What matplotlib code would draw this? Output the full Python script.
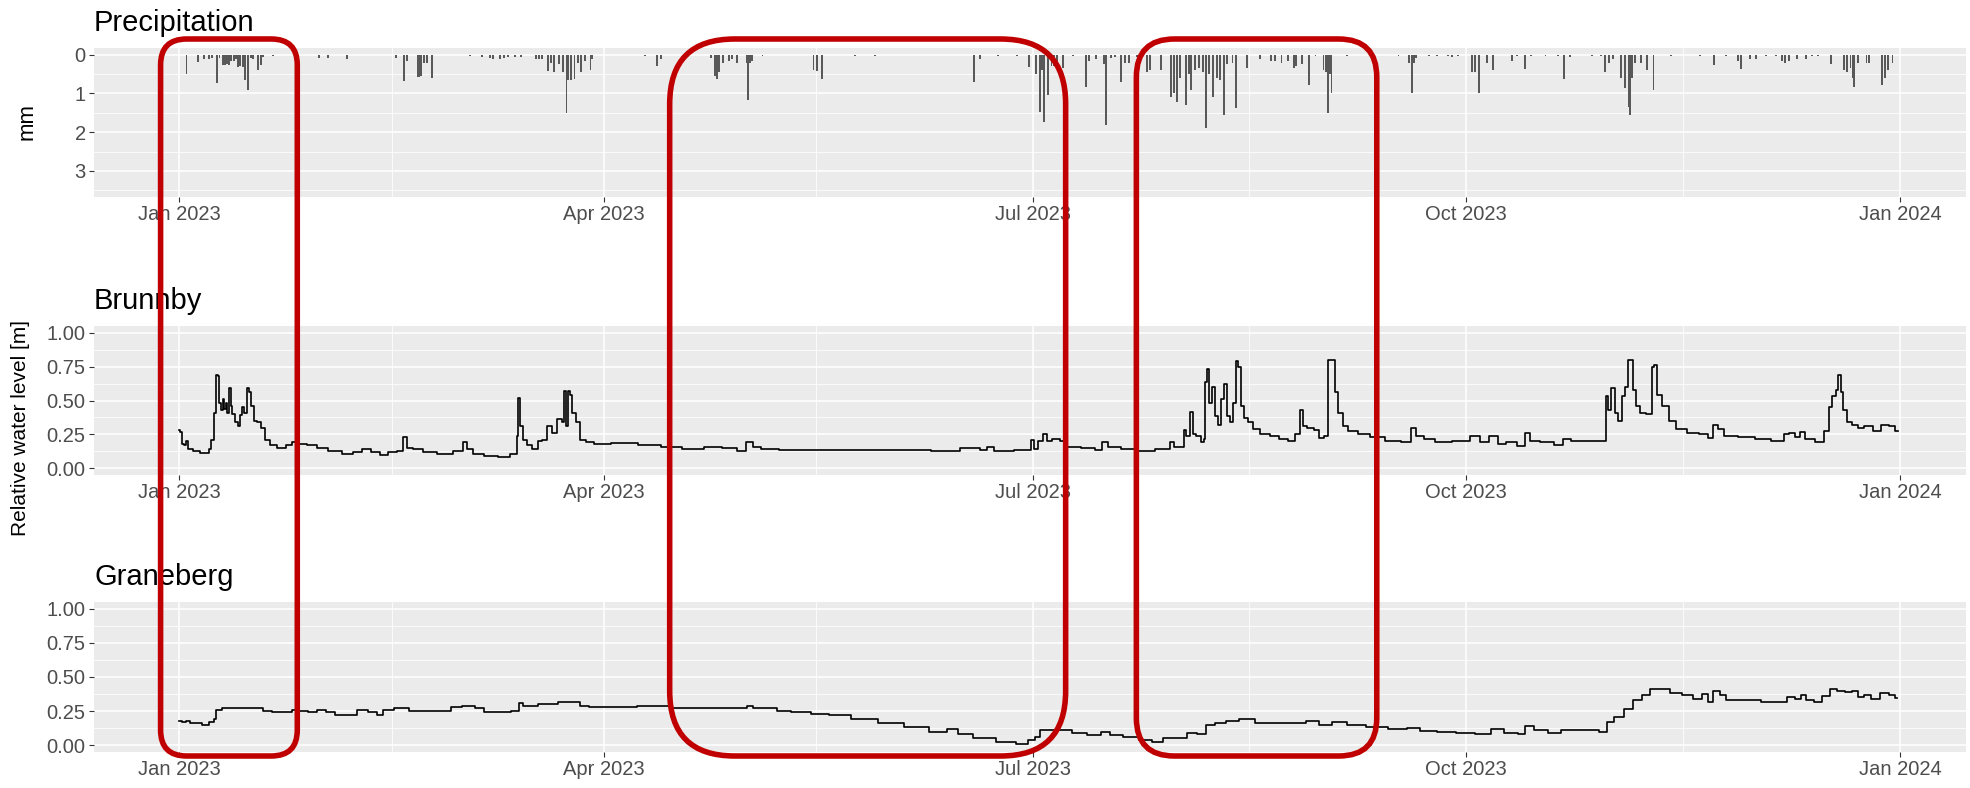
import numpy as np
import matplotlib
matplotlib.use('Agg')
import matplotlib.pyplot as plt
import matplotlib.dates as mdates
from matplotlib.patches import FancyBboxPatch
from matplotlib.transforms import IdentityTransform

plt.rcParams['font.family'] = ['Liberation Sans', 'DejaVu Sans']

START = np.datetime64('2023-01-01T00:00')

# precipitation events: days since 1 Jan 2023, mm
precip_day = [1.5, 3.9, 5.2, 6.2, 7.0, 7.9, 8.5, 9.2, 9.6, 10.0, 10.5, 11.0, 11.5, 12.0, 12.5, 12.9,
              13.4, 14.0, 14.5, 15.2, 15.6, 16.7, 17.3, 17.8, 19.9, 29.7, 31.5, 35.6, 46.0, 47.7, 48.3,
              50.5, 50.9, 51.3, 51.8, 52.6, 53.5, 61.6, 64.2, 65.9, 66.6, 68.0, 68.9, 69.7, 71.2, 72.5,
              75.7, 76.3, 77.0, 78.2, 78.8, 79.5, 80.5, 81.4, 82.1, 82.5, 83.0, 83.8, 84.6, 85.2, 86.1,
              87.2, 87.6, 98.7, 101.3, 102.1, 112.8,
              113.7, 114.1, 114.5, 115.3, 116.6, 117.2, 118.3, 120.4, 120.7, 121.1, 121.5, 123.7, 134.5,
              135.3, 136.4, 143.4, 147.5, 168.6, 169.8, 173.7, 177.6, 180.3, 181.8, 182.5, 183.0, 183.5,
              184.3, 185.0, 185.6, 186.2, 187.4, 189.5, 192.4, 193.0, 194.4, 196.1, 196.5, 197.6, 198.4,
              199.7, 200.5, 201.4, 203.1, 204.0, 205.2, 205.9, 208.2, 210.4, 210.9, 211.6, 212.2, 213.5,
              214.2, 214.6, 215.4, 216.3, 217.1, 217.7, 218.4, 219.3, 220.1, 220.8, 221.5, 222.3, 223.4,
              224.2, 226.5, 229.3, 231.6, 232.5, 233.8, 235.1, 236.4, 236.9, 238.2, 239.6, 241.0, 242.7,
              243.3, 243.6, 244.0, 244.4,
              247.7, 258.6, 260.9, 261.5, 261.9, 262.4, 265.1, 266.7, 269.2, 270.0, 271.2, 274.2, 274.8,
              275.6, 277.3, 278.6, 282.7, 283.7, 285.4, 286.7, 289.8, 292.4, 293.7, 295.0, 299.7, 301.6,
              302.5, 303.2, 304.2, 305.9, 306.7, 307.4, 307.7, 308.2, 308.8, 310.1, 311.4, 312.7, 316.5,
              322.5, 325.5, 328.0, 330.6, 331.3, 333.2, 334.4, 336.5, 338.7, 340.0, 340.6, 341.4, 343.2,
              345.1, 346.3, 347.6, 350.4, 353.2, 353.8, 354.5, 355.0, 355.3, 356.0, 357.9, 358.5, 361.2,
              361.9, 362.5, 363.4]
precip_mm = [0.49, 0.19, 0.1, 0.1, 0.08, 0.74, 0.08, 0.27, 0.27, 0.25, 0.27, 0.15, 0.15, 0.12, 0.32, 0.3,
             0.32, 0.66, 0.91, 0.08, 0.1, 0.4, 0.27, 0.05, 0.04, 0.08, 0.08, 0.12, 0.08, 0.68, 0.15,
             0.57, 0.57, 0.55, 0.2, 0.2, 0.59, 0.04, 0.05, 0.08, 0.1, 0.1, 0.08, 0.06, 0.05, 0.05,
             0.1, 0.12, 0.1, 0.43, 0.2, 0.45, 0.25, 0.45, 1.51, 0.66, 0.66, 0.62, 0.2, 0.45, 0.15,
             0.4, 0.1, 0.04, 0.3, 0.1, 0.08,
             0.55, 0.62, 0.45, 0.2, 0.15, 0.1, 0.2, 0.2, 1.17, 0.2, 0.15, 0.04, 0.4,
             0.42, 0.62, 0.04, 0.04, 0.7, 0.1, 0.04, 0.04, 0.32, 0.49, 1.47, 0.4, 1.73,
             1.04, 0.3, 0.3, 0.3, 0.35, 0.04, 0.83, 0.15, 0.12, 0.23, 1.81, 0.08, 0.06,
             0.7, 0.2, 0.2, 0.05, 0.06, 0.45, 0.4, 0.4, 1.08, 1.0, 1.21, 0.6, 1.3,
             0.5, 0.91, 0.4, 0.35, 0.45, 1.9, 0.5, 1.08, 0.6, 0.65, 1.56, 0.25, 0.2,
             1.38, 0.35, 0.1, 0.15, 0.15, 0.2, 0.15, 0.35, 0.3, 0.25, 0.79, 0.04, 0.4,
             0.45, 1.51, 0.5, 1.0,
             0.04, 0.04, 0.2, 1.0, 0.2, 0.08, 0.04, 0.04, 0.04, 0.05, 0.04, 0.45, 0.45,
             1.0, 0.2, 0.4, 0.15, 0.04, 0.36, 0.04, 0.04, 0.04, 0.62, 0.06, 0.04, 0.04,
             0.44, 0.2, 0.1, 0.6, 0.87, 1.34, 1.56, 0.6, 0.2, 0.2, 0.4, 0.91, 0.04,
             0.04, 0.27, 0.04, 0.15, 0.36, 0.1, 0.1, 0.04, 0.04, 0.15, 0.2, 0.15, 0.1,
             0.1, 0.04, 0.04, 0.25, 0.4, 0.45, 0.35, 0.6, 0.83, 0.2, 0.2, 0.2, 0.79,
             0.6, 0.4, 0.2]

# relative water level, days since 1 Jan 2023, m
brunnby_day = [0, 0.4, 0.8, 1.1, 1.5, 2.1, 3.6, 5.0, 6.0, 6.4, 7.2, 7.6, 8.0, 8.3, 8.6, 9.0, 9.3, 9.6,
               10.0, 10.3, 10.7, 11.0, 11.4, 12.1, 12.6, 13.1, 13.5, 14.0, 14.5, 15.0, 15.4, 16.1, 16.8,
               17.8, 18.7, 19.7, 21.6, 23.5, 24.4, 25.8, 28.2, 30.1, 33.0, 35.8, 37.7, 39.6, 41.5, 43.4,
               45.3, 47.1, 47.9, 48.6, 50.5, 52.8, 56.6, 59.5, 60.6, 61.3, 63.2, 66.1, 68.9, 71.3, 71.8,
               72.0, 72.5, 73.2, 74.1, 75.6, 76.5, 77.5, 78.6, 79.3, 80.8, 81.4, 81.7, 82.2, 82.7, 83.1,
               83.6, 84.5, 85.5, 86.9, 88.8, 94.5, 100.2, 104.0, 109.3, 113.1, 116.9, 119.7, 120.8, 122.5,
               124.4, 130.1, 156.6, 162.3, 168.9, 170.8, 172.0, 173.7, 180.3, 180.8, 181.7, 182.7, 183.6,
               184.4, 186.0, 187.4, 188.8, 193.6, 195.0, 196.4, 197.4, 202.1, 204.0, 209.7, 210.4, 211.6,
               213.0, 213.3, 213.9, 214.7, 215.2, 216.3, 217.2, 217.5, 217.7, 218.2, 218.7, 219.3, 219.9,
               220.6, 221.2, 221.8, 222.5, 223.2, 223.9, 224.3, 224.8, 225.5, 226.2, 227.2, 228.1, 230.5,
               232.4, 234.3, 236.2, 237.3, 238.1, 238.5, 240.0, 241.4, 242.3, 243.3, 244.0, 244.9, 245.4,
               246.3, 247.2, 248.6, 251.3, 254.0, 257.6, 260.8, 261.7, 263.1, 264.9, 267.6, 272.2, 275.3,
               276.7, 279.0, 280.3, 282.6, 284.8, 285.9, 287.1, 290.3, 293.0, 293.9, 296.6, 301.2, 302.5,
               302.8, 303.4, 304.1, 304.8, 305.7, 306.4, 307.1, 307.5, 308.2, 308.6, 309.3, 310.2, 312.0,
               312.6, 313.1, 313.9, 315.2, 316.6, 318.4, 321.1, 323.8, 324.9, 325.6, 327.0, 328.4, 332.9,
               335.6, 339.7, 341.1, 342.0, 343.3, 344.2, 345.6, 348.3, 349.6, 350.1, 351.0, 351.8, 352.1,
               352.7, 353.3, 354.2, 355.6, 356.5, 358.3, 360.1, 361.9, 363.3, 364.6]
brunnby_level = [0.28, 0.27, 0.18, 0.17, 0.20, 0.14, 0.13, 0.11, 0.11, 0.14, 0.21, 0.41, 0.69, 0.68, 0.48,
                 0.43, 0.51, 0.44, 0.48, 0.41, 0.59, 0.46, 0.40, 0.34, 0.31, 0.39, 0.45, 0.41, 0.59, 0.56,
                 0.46, 0.35, 0.34, 0.30, 0.21, 0.17, 0.15, 0.17, 0.195, 0.18, 0.17, 0.15, 0.13, 0.105,
                 0.12, 0.14, 0.12, 0.095, 0.12, 0.13, 0.23, 0.15, 0.14, 0.12, 0.105, 0.13, 0.19, 0.14,
                 0.105, 0.09, 0.08, 0.105, 0.24, 0.52, 0.31, 0.21, 0.17, 0.14, 0.20, 0.21, 0.31, 0.26,
                 0.36, 0.34, 0.57, 0.31, 0.57, 0.54, 0.41, 0.34, 0.21, 0.19, 0.18, 0.185, 0.175, 0.16,
                 0.14, 0.155, 0.15, 0.13, 0.19, 0.155, 0.14, 0.135, 0.135, 0.13, 0.15, 0.135, 0.16, 0.125,
                 0.135, 0.21, 0.14, 0.20, 0.25, 0.20, 0.215, 0.20, 0.16, 0.15, 0.135, 0.195, 0.155, 0.14,
                 0.13, 0.14, 0.195, 0.16, 0.155, 0.28, 0.24, 0.415, 0.25, 0.24, 0.195, 0.215, 0.64, 0.73,
                 0.48, 0.60, 0.385, 0.32, 0.51, 0.62, 0.385, 0.34, 0.48, 0.79, 0.75, 0.46, 0.37, 0.34,
                 0.29, 0.25, 0.24, 0.215, 0.20, 0.25, 0.43, 0.31, 0.30, 0.28, 0.225, 0.24, 0.80, 0.80,
                 0.56, 0.41, 0.31, 0.275, 0.25, 0.23, 0.20, 0.195, 0.30, 0.24, 0.215, 0.195, 0.20, 0.24,
                 0.19, 0.24, 0.18, 0.19, 0.165, 0.26, 0.20, 0.19, 0.17, 0.215, 0.20, 0.20, 0.20, 0.53,
                 0.43, 0.59, 0.41, 0.35, 0.53, 0.60, 0.80, 0.80, 0.58, 0.46, 0.41, 0.40, 0.75, 0.76, 0.54,
                 0.46, 0.35, 0.29, 0.26, 0.25, 0.22, 0.32, 0.29, 0.24, 0.23, 0.215, 0.20, 0.25, 0.26,
                 0.23, 0.27, 0.215, 0.195, 0.275, 0.45, 0.53, 0.58, 0.69, 0.56, 0.43, 0.34, 0.32, 0.30,
                 0.31, 0.275, 0.32, 0.31, 0.275]

graneberg_day = [0.0, 0.9, 1.8, 2.6, 4.1, 5.5, 6.9, 7.6, 8.0, 10.2, 14.9, 16.8, 18.7, 20.6, 23.5, 24.4,
                 26.3, 28.2, 30.1, 32.0, 33.9, 36.7, 38.6, 41.5, 42.4, 43.8, 47.1, 50.5, 56.6, 58.5, 61.3,
                 64.2, 65.1, 68.9, 71.8, 72.2, 73.7, 78.4, 82.2, 84.1, 86.0, 87.9, 94.5, 99.8, 108.3,
                 120.2, 120.8, 122.5, 126.3, 127.3, 132.0, 135.8, 139.6, 145.3, 151.0, 156.6, 161.4,
                 164.2, 166.1, 170.8, 175.6, 179.4, 180.8, 182.2, 183.1, 185.0, 187.9, 190.7, 194.5,
                 196.4, 198.3, 202.1, 204.9, 207.8, 209.7, 213.0, 214.4, 217.2, 218.2, 221.0, 222.9,
                 226.7, 229.5, 232.4, 237.7, 240.4, 243.2, 245.9, 249.5, 254.0, 258.6, 262.2, 264.0,
                 269.4, 272.2, 277.6, 279.0, 283.0, 284.8, 286.2, 288.5, 292.1, 293.9, 300.3, 302.1,
                 303.4, 305.2, 307.5, 309.3, 311.1, 313.0, 314.8, 317.5, 320.2, 322.0, 323.8, 324.7,
                 326.1, 327.5, 328.8, 333.8, 337.4, 340.2, 342.0, 343.3, 344.7, 345.6, 347.9, 349.2,
                 351.0, 352.4, 354.2, 355.6, 356.5, 358.3, 359.6, 361.9, 363.3, 364.4]
graneberg_level = [0.18, 0.17, 0.18, 0.16, 0.165, 0.15, 0.17, 0.195, 0.26, 0.27, 0.27, 0.27, 0.25, 0.24,
                   0.24, 0.26, 0.25, 0.24, 0.26, 0.24, 0.225, 0.225, 0.26, 0.24, 0.225, 0.26, 0.275,
                   0.25, 0.25, 0.28, 0.29, 0.27, 0.24, 0.24, 0.25, 0.31, 0.29, 0.30, 0.315, 0.315, 0.29,
                   0.28, 0.28, 0.285, 0.27, 0.27, 0.285, 0.27, 0.27, 0.25, 0.24, 0.23, 0.22, 0.195,
                   0.165, 0.13, 0.10, 0.12, 0.085, 0.055, 0.025, 0.012, 0.04, 0.06, 0.11, 0.115, 0.11,
                   0.09, 0.075, 0.095, 0.075, 0.06, 0.035, 0.025, 0.05, 0.05, 0.09, 0.085, 0.145,
                   0.165, 0.18, 0.195, 0.16, 0.16, 0.165, 0.18, 0.145, 0.17, 0.145, 0.13, 0.12, 0.125,
                   0.105, 0.10, 0.09, 0.085, 0.12, 0.09, 0.08, 0.14, 0.11, 0.09, 0.115, 0.11, 0.10,
                   0.17, 0.205, 0.265, 0.33, 0.365, 0.415, 0.41, 0.385, 0.37, 0.34, 0.375, 0.32, 0.395,
                   0.365, 0.33, 0.33, 0.315, 0.315, 0.35, 0.34, 0.37, 0.33, 0.315, 0.36, 0.415, 0.40,
                   0.39, 0.395, 0.35, 0.365, 0.34, 0.385, 0.365, 0.345]

x_breaks = ['2023-01-01', '2023-04-01', '2023-07-01', '2023-10-01', '2024-01-01']
precip_breaks = [0, 1, 2, 3]
level_breaks = [0.0, 0.25, 0.5, 0.75, 1.0]

# periods marked with red boxes
highlight_start = ['2022-12-28', '2023-04-15', '2023-07-23']
highlight_end = ['2023-01-26', '2023-07-08', '2023-09-12']


def to_time(days):
  return START + np.round(np.asarray(days) * 1440).astype('timedelta64[m]')


def style_panel(ax, title, y_breaks, y_fmt):
  """
  ggplot-like grey panel
  """
  ax.set_facecolor('#EBEBEB')
  for s in ax.spines.values():
    s.set_visible(False)
  ax.set_axisbelow(True)

  majors = np.array(x_breaks, dtype='datetime64[D]')
  minors = majors[:-1] + (majors[1:] - majors[:-1]) // 2
  ax.set_xticks(majors)
  ax.set_xticks(minors, minor=True)
  ax.xaxis.set_major_formatter(mdates.DateFormatter('%b %Y'))
  ax.set_xlim(START - np.timedelta64(18 * 24 + 3, 'h'), START + np.timedelta64(379 * 24, 'h'))

  yb = np.array(y_breaks)
  ax.set_yticks(yb)
  ax.set_yticks(yb + (yb[1] - yb[0]) / 2, minor=True)
  ax.set_yticklabels([y_fmt.format(v) for v in yb])

  ax.grid(which='major', color='white', linewidth=1.1)
  ax.grid(which='minor', color='white', linewidth=0.55)
  ax.tick_params(which='major', length=3.5, width=0.8, color='#333333',
                 labelcolor='#4D4D4D', labelsize=14.5, pad=2.5)
  ax.tick_params(which='minor', length=0)
  ax.set_title(title, loc='left', fontsize=21, pad=12)


fig = plt.figure(figsize=(19.7, 7.88), dpi=100)
W, H = 1970.0, 788.0
left, width = 94 / W, (1966 - 94) / W

ax_p = fig.add_axes([left, 1 - 197 / H, width, 149 / H])
ax_b = fig.add_axes([left, 1 - 475 / H, width, 149 / H])
ax_g = fig.add_axes([left, 1 - 752 / H, width, 150 / H])

ax_p.bar(to_time(precip_day), precip_mm, width=0.4, color='#595959', linewidth=0)
style_panel(ax_p, 'Precipitation', precip_breaks, '{:.0f}')
ax_p.set_ylim(3.675, -0.175)

ax_b.plot(to_time(brunnby_day), brunnby_level, color='black', linewidth=1.2, drawstyle='steps-mid')
style_panel(ax_b, 'Brunnby', level_breaks, '{:.2f}')
ax_b.set_ylim(-0.05, 1.05)

ax_g.plot(to_time(graneberg_day), graneberg_level, color='black', linewidth=1.2, drawstyle='steps-mid')
style_panel(ax_g, 'Graneberg', level_breaks, '{:.2f}')
ax_g.set_ylim(-0.05, 1.05)

fig.text(27 / W, 1 - 122 / H, 'mm', rotation=90, ha='center', va='center', fontsize=16)
fig.text(21 / W, 1 - 428 / H, 'Relative water level [m]', rotation=90,
         ha='center', va='center', fontsize=15)

# red rounded boxes, in pixels
radii = [26, 65, 38]
top_px, bottom_px = H - 39, H - 756
for s, e, r in zip(highlight_start, highlight_end, radii):
  x0 = ax_p.transData.transform((mdates.date2num(np.datetime64(s)), 0))[0]
  x1 = ax_p.transData.transform((mdates.date2num(np.datetime64(e)), 0))[0]
  box = FancyBboxPatch((x0, bottom_px), x1 - x0, top_px - bottom_px,
                       boxstyle=f'round,pad=0,rounding_size={r}', transform=IdentityTransform(),
                       fill=False, edgecolor='#C00000', linewidth=4, zorder=10)
  fig.add_artist(box)

fig.savefig('out.png', dpi=100)
